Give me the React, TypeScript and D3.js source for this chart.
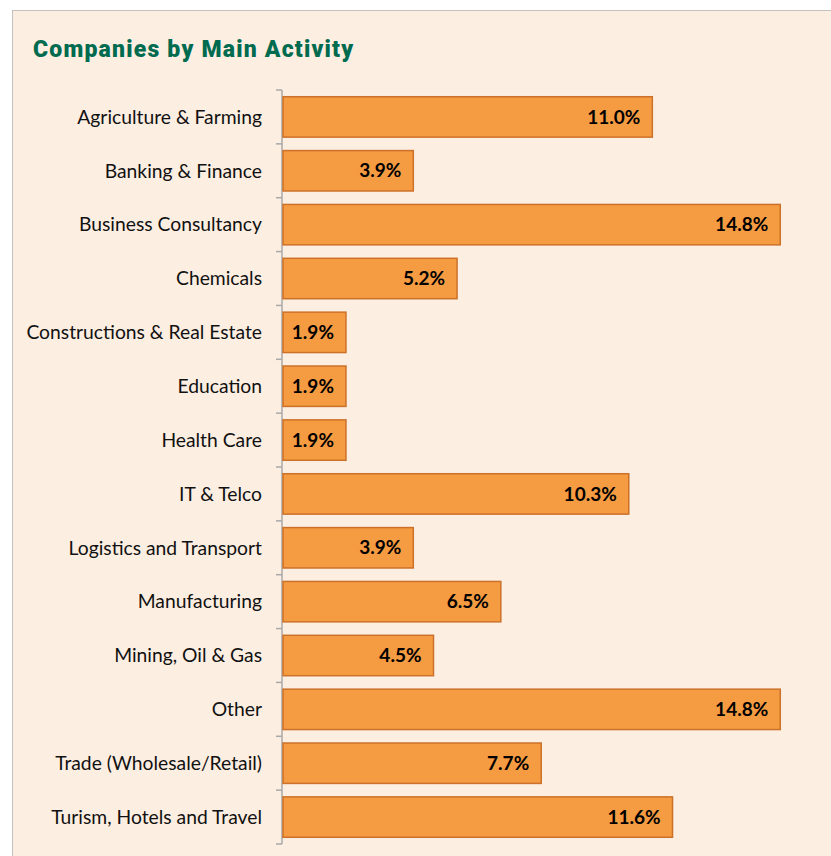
import React from 'react';
import * as d3 from 'd3';

const categories = [
  'Agriculture & Farming',
  'Banking & Finance',
  'Business Consultancy',
  'Chemicals',
  'Constructions & Real Estate',
  'Education',
  'Health Care',
  'IT & Telco',
  'Logistics and Transport',
  'Manufacturing',
  'Mining, Oil & Gas',
  'Other',
  'Trade (Wholesale/Retail)',
  'Turism, Hotels and Travel',
];
const shares = [11.0, 3.9, 14.8, 5.2, 1.9, 1.9, 1.9, 10.3, 3.9, 6.5, 4.5, 14.8, 7.7, 11.6];

const W = 831;
const H = 856;
const left = 282;
const top = 90;
const bottom = 844;

export default function App() {
  const y = d3.scaleBand<string>().domain(categories).range([top, bottom]).paddingInner(0.25).paddingOuter(0.125);
  const x = d3.scaleLinear().domain([0, 15]).range([left, left + 505]);
  const step = y.step();

  return (
    <svg width={W} height={H} style={{ position: 'absolute', left: 0, top: 0, display: 'block' }}>
      <rect x={0} y={0} width={W} height={H} fill="#ffffff" />
      <rect x={12.5} y={10.5} width={W} height={H} fill="#fdeee2" stroke="#c4c0bc" strokeWidth={1} />
      <text x={33} y={57} fill="#006b4f" fontFamily="Roboto, 'Open Sans', sans-serif" fontWeight={900}
        fontSize={23} letterSpacing={1.2}>
        Companies by Main Activity
      </text>

      {/* axis line and tick marks */}
      <line x1={left} x2={left} y1={top} y2={bottom} stroke="#a9a9a9" strokeWidth={1.5} />
      {d3.range(categories.length + 1).map(i => (
        <line key={i} x1={left - 6} x2={left} y1={top + i * step} y2={top + i * step} stroke="#a9a9a9" strokeWidth={1.5} />
      ))}

      {categories.map((c, i) => {
        const yy = y(c)!;
        const bw = y.bandwidth();
        return (
          <g key={c}>
            <rect x={x(0) + 1} y={yy} width={x(shares[i]) - x(0) - 1} height={bw}
              fill="#f59b42" stroke="#cc7129" strokeWidth={1.5} />
            <text x={left - 20} y={yy + bw / 2} dy="0.35em" textAnchor="end"
              fontFamily="Lato, 'Open Sans', sans-serif" fontSize={19.3} fill="#111">{c}</text>
            <text x={x(shares[i]) - 12} y={yy + bw / 2} dy="0.35em" textAnchor="end"
              fontFamily="Lato, 'Open Sans', sans-serif" fontWeight={700} fontSize={19} fill="#000">
              {shares[i].toFixed(1)}%
            </text>
          </g>
        );
      })}
    </svg>
  );
}
